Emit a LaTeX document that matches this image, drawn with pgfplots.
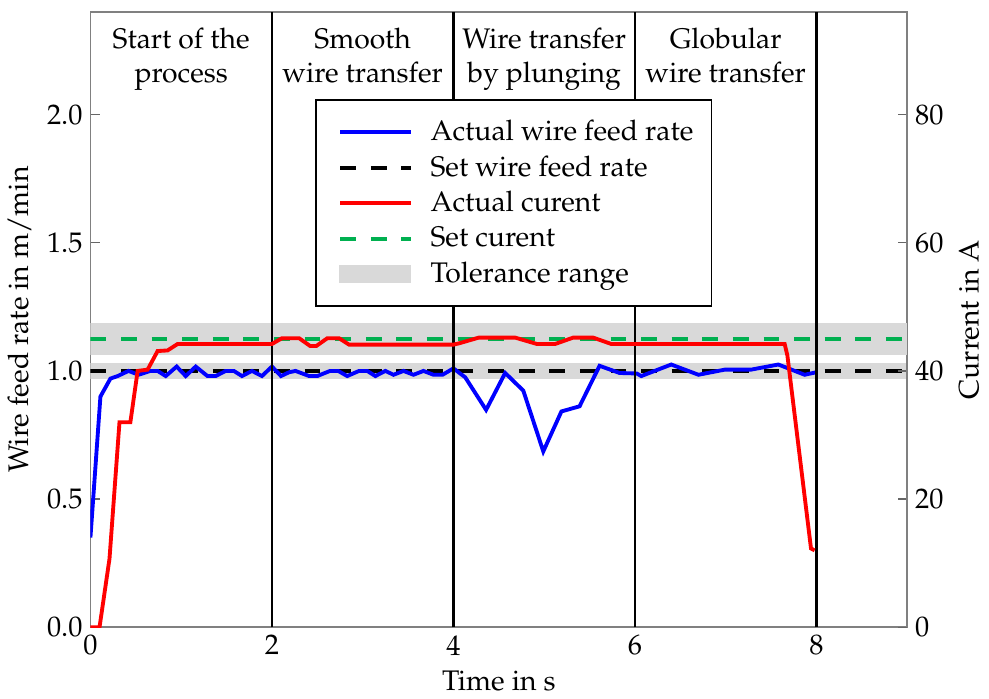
\documentclass[border=0pt]{standalone}
\usepackage[T1]{fontenc}
\usepackage{mathpazo}
\usepackage{pgfplots}
\pgfplotsset{compat=1.18}
\definecolor{setgreen}{RGB}{0,176,80}
\definecolor{tolgray}{RGB}{217,217,217}

\begin{document}
\begin{tikzpicture}[font=\fontsize{12.5}{15}\selectfont]
\pgfplotsset{
  common/.style={
    scale only axis, width=360.4pt, height=271.5pt,
    xmin=0, xmax=9,
    tick align=inside, major tick length=4pt,
    every tick/.style={black!60, line width=0.6pt},
    axis line style={black!50, line width=0.8pt},
  }
}
% left axis: wire feed rate
\begin{axis}[common, name=ax1,
    ymin=0, ymax=2.4,
    xtick={0,2,4,6,8}, ytick={0,0.5,1,1.5,2},
    tick pos=left,
    yticklabel style={/pgf/number format/fixed, /pgf/number format/fixed zerofill, /pgf/number format/precision=1},
    xlabel={Time in s}, ylabel={Wire feed rate in m/min},
]
% tolerance band of wire feed rate
\addplot[fill=tolgray, draw=none] coordinates {(0,0.97)(9,0.97)(9,1.03)(0,1.03)} -- cycle;
% set wire feed rate
\addplot[black, line width=1.7pt, dash pattern=on 7pt off 6.5pt] coordinates {(0,1)(9,1)};
% actual wire feed rate
\addplot[blue, line width=1.7pt] coordinates {
 (0.00,0.35)(0.11,0.90)(0.22,0.97)(0.30,0.98)(0.42,1.00)(0.53,0.985)
 (0.66,1.00)(0.74,1.00)(0.83,0.98)(0.95,1.017)(1.05,0.98)(1.16,1.017)
 (1.29,0.98)(1.38,0.98)(1.49,1.00)(1.58,1.00)(1.67,0.98)(1.78,1.00)
 (1.89,0.98)(2.00,1.017)(2.10,0.98)(2.19,0.995)(2.26,1.00)(2.41,0.98)
 (2.50,0.98)(2.64,1.00)(2.73,1.00)(2.83,0.98)(2.96,1.00)(3.05,1.00)
 (3.14,0.98)(3.25,1.00)(3.34,0.985)(3.45,1.00)(3.56,0.985)(3.67,1.00)
 (3.78,0.985)(3.88,0.985)(4.00,1.01)(4.13,0.975)(4.36,0.848)(4.57,0.992)
 (4.77,0.923)(4.99,0.686)(5.19,0.842)(5.39,0.862)(5.61,1.02)(5.83,0.992)
 (6.02,0.99)(6.07,0.98)(6.40,1.025)(6.70,0.985)(6.99,1.005)(7.28,1.005)
 (7.58,1.025)(7.87,0.985)(8.00,0.995)
};
% phase labels
\node[anchor=north, align=center, inner sep=0pt] at (axis cs:1,2.34) {Start of the\\process};
\node[anchor=north, align=center, inner sep=0pt] at (axis cs:3,2.34) {Smooth\\wire transfer};
\node[anchor=north, align=center, inner sep=0pt] at (axis cs:5,2.34) {Wire transfer\\by plunging};
\node[anchor=north, align=center, inner sep=0pt] at (axis cs:7,2.34) {Globular\\wire transfer};
\end{axis}

% right axis: current
\begin{axis}[common,
    ymin=0, ymax=96,
    axis x line=none, axis y line*=right,
    ytick={0,20,40,60,80},
    ylabel={Current in A},
    legend style={at={(0.2747,0.859)}, anchor=north west, draw=black, line width=0.8pt,
      fill=white, inner xsep=6pt, inner ysep=7pt, row sep=1.2pt,
      font=\fontsize{12.5}{15}\selectfont},
    legend cell align=left,
    legend image code/.code={\draw[#1] (4pt,0pt) -- (35pt,0pt); \path (0pt,0pt) (41pt,0pt);},
]
\addlegendimage{blue, line width=1.7pt}
\addlegendimage{black, line width=1.7pt, dash pattern=on 7pt off 6.5pt}
\addlegendimage{red, line width=1.7pt}
\addlegendimage{setgreen, line width=1.7pt, dash pattern=on 7pt off 6.5pt}
\addlegendimage{legend image code/.code={\fill[tolgray] (4pt,-3.5pt) rectangle (35pt,3.5pt); \path (0pt,0pt) (41pt,0pt);}}
% tolerance band of current
\addplot[forget plot, fill=tolgray, draw=none] coordinates {(0,42.5)(9,42.5)(9,47.5)(0,47.5)} -- cycle;
% phase borders
\addplot[forget plot, black, line width=1pt] coordinates {(2,0)(2,96)};
\addplot[forget plot, black, line width=1pt] coordinates {(4,0)(4,96)};
\addplot[forget plot, black, line width=1pt] coordinates {(6,0)(6,96)};
\addplot[forget plot, black, line width=1pt] coordinates {(8,0)(8,96)};
% set current
\addplot[forget plot, setgreen, line width=1.7pt, dash pattern=on 7pt off 6.5pt] coordinates {(0,45)(9,45)};
% actual current
\addplot[forget plot, red, line width=1.7pt] coordinates {
 (0.00,0)(0.10,0)(0.21,10.7)(0.32,32.0)(0.44,32.0)(0.52,40.0)(0.63,40.2)
 (0.74,43.1)(0.85,43.2)(0.96,44.2)(2.00,44.2)(2.11,45.1)(2.30,45.1)
 (2.42,43.9)(2.49,43.9)(2.61,45.1)(2.74,45.1)(2.85,44.1)(4.00,44.1)
 (4.06,44.3)(4.28,45.2)(4.68,45.2)(4.92,44.2)(5.12,44.2)(5.32,45.2)
 (5.54,45.2)(5.74,44.2)(7.65,44.2)(7.68,42.4)(7.94,12.3)(7.98,12.0)
};
\legend{Actual wire feed rate, Set wire feed rate, Actual curent, Set curent, Tolerance range}
\end{axis}
\path ([shift={(-38.7pt,-29pt)}]ax1.south west) rectangle ([shift={(36.1pt,5.3pt)}]ax1.north east);
\end{tikzpicture}
\end{document}
